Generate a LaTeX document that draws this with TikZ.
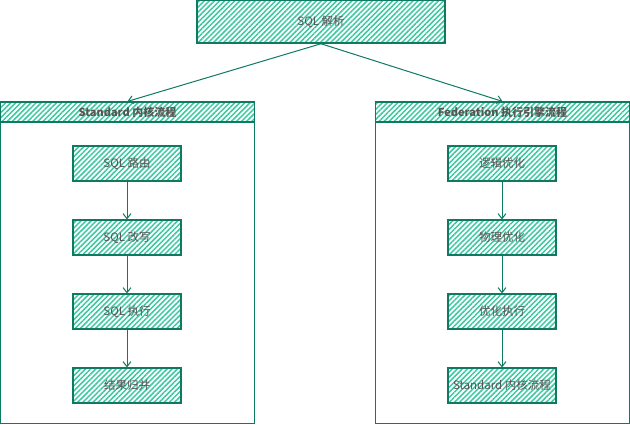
\documentclass[tikz,border=0pt]{standalone}
\usepackage{fontspec}
\setmainfont{Noto Sans CJK SC}
\usetikzlibrary{arrows.meta,patterns.meta}
\definecolor{linegreen}{HTML}{0E7A62}
\definecolor{hatchgreen}{HTML}{3CC8A0}
\definecolor{labelgray}{HTML}{555555}

\begin{document}
\begin{tikzpicture}[x=1pt,y=-1pt,
    box/.style={draw=linegreen, line width=1.2pt, inner sep=0pt,
        pattern={Lines[angle=45,distance=3.6pt,line width=1.5pt]}, pattern color=hatchgreen,
        text=labelgray, font=\fontsize{11.5}{13}\selectfont},
    stepbox/.style={box, minimum width=108pt, minimum height=35pt},
    lane/.style={draw=linegreen, line width=1pt, inner sep=0pt,
        minimum width=254pt, minimum height=321pt},
    lanehead/.style={box, minimum width=254pt, minimum height=20pt,
        font=\bfseries\fontsize{11}{13}\selectfont},
    flow/.style={draw=linegreen, line width=1pt, -{Straight Barb[length=5pt,width=8pt]}}]
    \useasboundingbox (0,0) rectangle (630,424);
    % Parsing step on top
    \node[box, minimum width=248pt, minimum height=43pt] (parse) at (321,21.5) {SQL 解析};
    % Standard kernel lane (left)
    \node[lane] (stdlane) at (127.5,262.5) {};
    \node[lanehead] (stdhead) at (127.5,112) {Standard 内核流程};
    \node[stepbox] (route) at (127,163.5) {SQL 路由};
    \node[stepbox] (rewrite) at (127,237.5) {SQL 改写};
    \node[stepbox] (execute) at (127,311.5) {SQL 执行};
    \node[stepbox] (merge) at (127,385.5) {结果归并};
    % Federation engine lane (right)
    \node[lane] (fedlane) at (502.5,262.5) {};
    \node[lanehead] (fedhead) at (502.5,112) {Federation 执行引擎流程};
    \node[stepbox] (logic) at (502,163.5) {逻辑优化};
    \node[stepbox] (physic) at (502,237.5) {物理优化};
    \node[stepbox] (optexec) at (502,311.5) {优化执行};
    \node[stepbox] (stdflow) at (502,385.5) {Standard 内核流程};
    % Connectors
    \draw[flow] (parse.south) -- (stdhead.north);
    \draw[flow] (parse.south) -- (fedhead.north);
    \draw[flow] (route) -- (rewrite);
    \draw[flow] (rewrite) -- (execute);
    \draw[flow] (execute) -- (merge);
    \draw[flow] (logic) -- (physic);
    \draw[flow] (physic) -- (optexec);
    \draw[flow] (optexec) -- (stdflow);
\end{tikzpicture}
\end{document}
